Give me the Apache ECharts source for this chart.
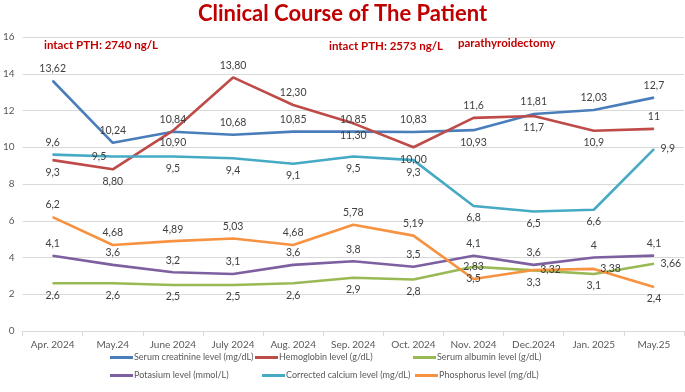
<!DOCTYPE html>
<html>
<head>
<meta charset="utf-8">
<script src="https://cdn.jsdelivr.net/npm/echarts@6/dist/echarts.min.js"></script>
<style>
  html, body { margin: 0; padding: 0; background: #fff; }
  #chart { width: 685px; height: 392px; }
</style>
</head>
<body>
<div id="chart"></div>
<script>
const months = ['Apr. 2024', 'May.24', 'June 2024', 'July 2024', 'Aug. 2024', 'Sep. 2024',
  'Oct. 2024', 'Nov. 2024', 'Dec.2024', 'Jan. 2025', 'May.25']

// values kept as written in the source (decimal places matter for the labels)
const creatinine = ['13.62', '10.24', '10.84', '10.68', '10.85', '10.85', '10.83', '10.93', '11.81', '12.03', '12.7']
const hemoglobin = ['9.3', '8.80', '10.90', '13.80', '12.30', '11.30', '10.00', '11.6', '11.7', '10.9', '11']
const albumin = ['2.6', '2.6', '2.5', '2.5', '2.6', '2.9', '2.8', '3.5', '3.3', '3.1', '3.66']
const potassium = ['4.1', '3.6', '3.2', '3.1', '3.6', '3.8', '3.5', '4.1', '3.6', '4', '4.1']
const calcium = ['9.6', '9.5', '9.5', '9.4', '9.1', '9.5', '9.3', '6.8', '6.5', '6.6', '9.9']
const phosphorus = ['6.2', '4.68', '4.89', '5.03', '4.68', '5.78', '5.19', '2.83', '3.32', '3.38', '2.4']

const notes = ['intact PTH: 2740 ng/L', 'intact PTH: 2573 ng/L', 'parathyroidectomy']

// Lato is close to Calibri in width
const FONT = "Lato, 'Liberation Sans', Arial, sans-serif"
const SMALL = 9.5

// where each point's label sits (Excel had them placed by hand)
const T = 'top', B = 'bottom', L = 'left', R = 'right'
const seriesDefs = [
  { name: 'Serum creatinine level (mg/dL)', vals: creatinine, color: '#4A7EBB',
    pos: [T, T, T, T, T, T, T, B, T, T, T] },
  { name: 'Hemoglobin level (g/dL)', vals: hemoglobin, color: '#BE4B48',
    pos: [B, B, B, T, T, B, B, T, B, B, T] },
  { name: 'Serum albumin level (g/dL)', vals: albumin, color: '#98B954',
    pos: [B, B, B, B, B, B, B, B, B, B, R] },
  { name: 'Potasium level (mmol/L)', vals: potassium, color: '#7D60A0',
    pos: [T, T, T, T, T, T, T, T, T, T, T] },
  { name: 'Corrected calcium level (mg/dL)', vals: calcium, color: '#46AAC5',
    pos: [T, L, B, B, B, B, B, B, B, B, R] },
  { name: 'Phosphorus level (mg/dL)', vals: phosphorus, color: '#F69240',
    pos: [T, T, T, T, T, T, T, T, R, R, B] }
]

const legendSlots = [
  { left: 110, top: 353 }, { left: 255, top: 353 }, { left: 413, top: 353 },
  { left: 110, top: 371 }, { left: 262, top: 371 }, { left: 415, top: 371 }
]

const chart = echarts.init(document.getElementById('chart'))

const series = seriesDefs.map(d => ({
  name: d.name,
  type: 'line',
  symbol: 'circle',
  symbolSize: 1,
  showSymbol: true,
  lineStyle: { color: d.color, width: 2.6 },
  itemStyle: { color: d.color },
  emphasis: { disabled: true },
  data: d.vals.map((v, i) => ({
    value: parseFloat(v),
    label: { show: true, position: d.pos[i] }
  })),
  label: {
    show: true,
    color: '#404040',
    fontSize: SMALL + 1,
    fontFamily: FONT,
    distance: 6,
    formatter: p => d.vals[p.dataIndex].replace('.', ',')
  },
  labelLayout: { hideOverlap: false },
  z: 3
}))

const legends = seriesDefs.map((d, i) => ({
  data: [d.name],
  left: legendSlots[i].left,
  top: legendSlots[i].top,
  icon: 'rect',
  itemWidth: 23,
  itemHeight: 3,
  itemGap: 0,
  padding: 0,
  textStyle: { color: '#595959', fontSize: 9, fontFamily: FONT, padding: [0, 0, 0, -4] }
}))

chart.setOption({
  animation: false,
  title: {
    text: 'Clinical Course of The Patient',
    left: 'center',
    top: -2,
    textStyle: { color: '#C00000', fontSize: 22, fontWeight: 'bold', fontFamily: FONT }
  },
  grid: { left: 20, right: 1, top: 37, bottom: 61 },
  legend: legends,
  xAxis: {
    type: 'category',
    data: months,
    boundaryGap: true,
    axisLine: { lineStyle: { color: '#D9D9D9' } },
    axisTick: { show: true, length: 5, lineStyle: { color: '#D9D9D9' } },
    axisLabel: { color: '#595959', fontSize: SMALL + 0.5, fontFamily: FONT, margin: 9, interval: 0 }
  },
  yAxis: {
    type: 'value',
    min: 0,
    max: 16,
    interval: 2,
    axisLine: { show: false },
    axisTick: { show: false },
    splitLine: { lineStyle: { color: '#D9D9D9' } },
    axisLabel: { color: '#595959', fontSize: SMALL + 0.5, fontFamily: FONT, margin: 8 }
  },
  graphic: [
    { type: 'text', left: 44, top: 39, style: { text: notes[0], fill: '#C00000', font: "bold 11.5px " + FONT } },
    { type: 'text', left: 329, top: 40, style: { text: notes[1], fill: '#C00000', font: "bold 11.5px " + FONT } },
    { type: 'text', left: 458, top: 37, style: { text: notes[2], fill: '#C00000', font: "bold 11.5px " + FONT } }
  ],
  series
})
</script>
</body>
</html>
